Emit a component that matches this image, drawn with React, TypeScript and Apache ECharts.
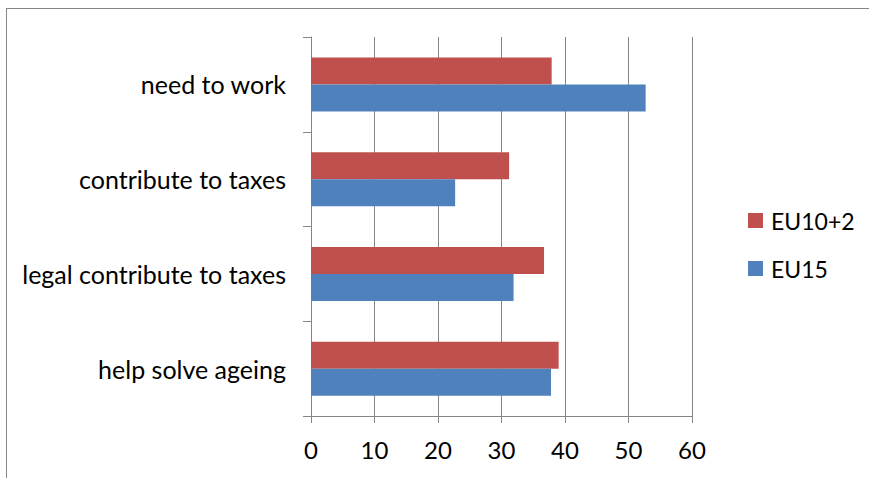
import React, { useEffect, useRef } from "react";
import * as echarts from "echarts";

const categories = ["help solve ageing", "legal contribute to taxes", "contribute to taxes", "need to work"];
const seriesNames = ["EU10+2", "EU15"];
const eu102Values = [39.0, 36.7, 31.2, 37.9];
const eu15Values = [37.8, 31.9, 22.7, 52.7];
const xTicks = [0, 10, 20, 30, 40, 50, 60];

const FONT = "Lato, 'Open Sans', sans-serif";

export default function App() {
  const ref = useRef<HTMLDivElement>(null);
  useEffect(() => {
    document.body.style.overflow = "hidden";
    const chart = echarts.init(ref.current!, null, { renderer: "svg" });
    chart.setOption({
      animation: false,
      textStyle: { fontFamily: FONT },
      grid: { left: 311, right: 177, top: 37, bottom: 62, containLabel: false },
      legend: {
        orient: "vertical",
        left: 748,
        top: 209,
        padding: 0,
        itemWidth: 15,
        itemHeight: 15,
        itemGap: 25,
        icon: "rect",
        data: seriesNames,
        textStyle: { fontSize: 23, lineHeight: 15, color: "#000", fontFamily: FONT, padding: [0, 0, 0, 3] },
      },
      xAxis: {
        type: "value",
        min: xTicks[0],
        max: xTicks[xTicks.length - 1],
        interval: 10,
        axisLine: { show: true, lineStyle: { color: "#868686", width: 1 } },
        axisTick: { show: true, length: 7, lineStyle: { color: "#868686" } },
        axisLabel: { fontSize: 24, color: "#000", margin: 21, fontFamily: FONT },
        splitLine: { show: true, lineStyle: { color: "#868686", width: 1 } },
      },
      yAxis: {
        type: "category",
        data: categories,
        axisLine: { show: true, lineStyle: { color: "#868686", width: 1 } },
        axisTick: { show: true, length: 8, lineStyle: { color: "#868686" } },
        axisLabel: { fontSize: 25, color: "#000", margin: 25, fontFamily: FONT },
        splitLine: { show: false },
      },
      series: [
        {
          name: seriesNames[0],
          type: "bar",
          data: eu102Values,
          barWidth: 27,
          barGap: "0%",
          itemStyle: { color: "#C0504D" },
        },
        {
          name: seriesNames[1],
          type: "bar",
          data: eu15Values,
          barWidth: 27,
          barGap: "0%",
          itemStyle: { color: "#4F81BD" },
        },
      ],
    });
    return () => chart.dispose();
  }, []);
  return (
    <div style={{ position: "fixed", left: 0, top: 0, width: 869, height: 478, overflow: "hidden", background: "#fff" }}>
      <div
        style={{
          position: "absolute",
          left: 6,
          top: 8,
          width: 1000,
          height: 1000,
          border: "1px solid #868686",
          boxSizing: "border-box",
        }}
      />
      <div ref={ref} style={{ position: "absolute", left: 0, top: 0, width: 869, height: 478 }} />
    </div>
  );
}
